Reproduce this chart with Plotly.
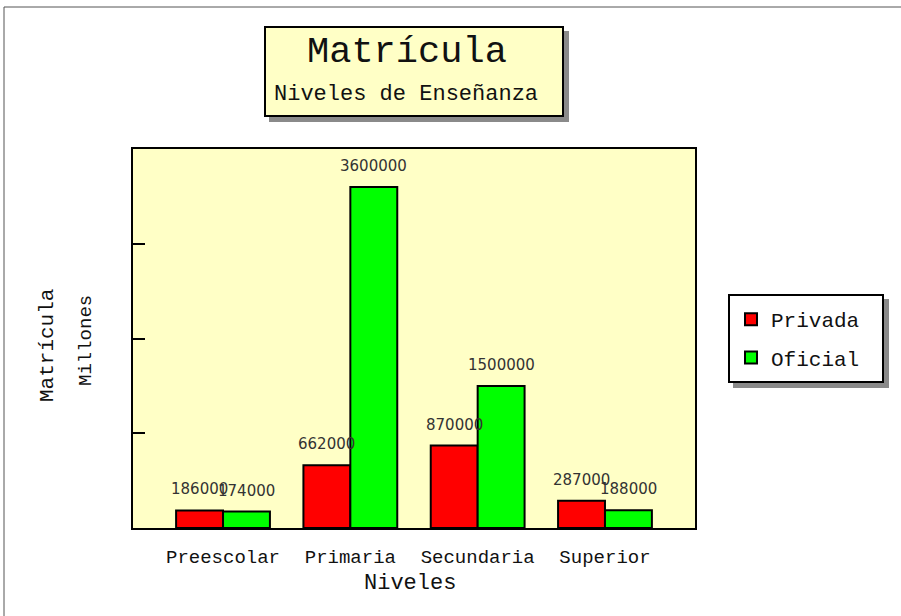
import plotly.graph_objects as go

categories = ["Preescolar", "Primaria", "Secundaria", "Superior"]
privada = [186000, 662000, 870000, 287000]
oficial = [174000, 3600000, 1500000, 188000]
series_names = ["Privada", "Oficial"]
title_text = "Matrícula"
subtitle_text = "Niveles de Enseñanza"
x_title = "Niveles"
y_title_1 = "Matrícula"
y_title_2 = "Millones"

W, H = 901, 616
L, R, T, B = 133, 695, 149, 528

def px(x):
    return (x - L) / (R - L)

def py(y):
    return (B - y) / (B - T)

MONO = "Liberation Mono, Courier New, monospace"
SANS = "DejaVu Sans, sans-serif"
BG = "#FFFFC6"

fig = go.Figure()
fig.add_trace(go.Bar(name=series_names[0], x=categories, y=privada,
                     marker=dict(color="#FF0000", line=dict(color="black", width=2)),
                     legendgroup="a"))
fig.add_trace(go.Bar(name=series_names[1], x=categories, y=oficial,
                     marker=dict(color="#00FF00", line=dict(color="black", width=2)),
                     legendgroup="b"))

annotations = []
for vals, shift in ((privada, -23.5), (oficial, 23.5)):
    for c, v in zip(categories, vals):
        annotations.append(dict(x=c, y=v, xref="x", yref="y", text=str(v),
                                showarrow=False, xshift=shift, yshift=21,
                                yanchor="middle",
                                font=dict(family=SANS, size=15, color="#333333")))

annotations += [
    dict(x=px(407), y=py(52), xref="paper", yref="paper", text=title_text,
         showarrow=False, xanchor="center", yanchor="middle",
         font=dict(family=MONO, size=37, color="#111111")),
    dict(x=px(272), y=py(94), xref="paper", yref="paper", text=subtitle_text,
         showarrow=False, xanchor="left", yanchor="middle",
         font=dict(family=MONO, size=22, color="#111111")),
    dict(x=px(410), y=py(583), xref="paper", yref="paper", text=x_title,
         showarrow=False, xanchor="center", yanchor="middle",
         font=dict(family=MONO, size=22, color="#111111")),
    dict(x=px(47), y=py(346), xref="paper", yref="paper", text=y_title_1,
         showarrow=False, xanchor="center", yanchor="middle", textangle=-90,
         font=dict(family=MONO, size=21, color="#111111")),
    dict(x=px(86), y=py(341), xref="paper", yref="paper", text=y_title_2,
         showarrow=False, xanchor="center", yanchor="middle", textangle=-90,
         font=dict(family=MONO, size=19, color="#111111")),
]

shapes = [
    # outer frame
    dict(type="rect", xref="paper", yref="paper", x0=px(4), y0=py(640), x1=px(940), y1=py(7),
         line=dict(color="#555555", width=1), fillcolor="rgba(0,0,0,0)", layer="below"),
    # title box shadow + box
    dict(type="rect", xref="paper", yref="paper", x0=px(269), y0=py(122), x1=px(569), y1=py(31),
         line=dict(width=0), fillcolor="#8A8A8A"),
    dict(type="rect", xref="paper", yref="paper", x0=px(265), y0=py(116), x1=px(563), y1=py(27),
         line=dict(color="black", width=2), fillcolor=BG),
    # legend box shadow + box
    dict(type="rect", xref="paper", yref="paper", x0=px(733), y0=py(388), x1=px(889), y1=py(299),
         line=dict(width=0), fillcolor="#8A8A8A", layer="below"),
    dict(type="rect", xref="paper", yref="paper", x0=px(729), y0=py(382), x1=px(883), y1=py(295),
         line=dict(color="black", width=2), fillcolor="white", layer="below"),
]

fig.update_layout(
    width=W, height=H,
    margin=dict(l=L, r=W - R, t=T, b=H - B, autoexpand=False),
    paper_bgcolor="white", plot_bgcolor=BG,
    barmode="group", bargap=0.263, bargroupgap=0,
    showlegend=True,
    legend=dict(x=px(731), y=py(299), xanchor="left", yanchor="top",
                bgcolor="rgba(0,0,0,0)", borderwidth=0,
                traceorder="grouped", tracegroupgap=8,
                font=dict(family=MONO, size=21, color="#111111")),
    annotations=annotations,
    shapes=shapes,
    xaxis=dict(type="category", range=[-0.707, 3.707], showline=True, mirror=True,
               linecolor="black", linewidth=2, ticks="", showgrid=False,
               tickfont=dict(family=MONO, size=19, color="#111111"),
               ticklabelstandoff=10, fixedrange=True),
    yaxis=dict(range=[0, 4000000], showline=True, mirror=True, linecolor="black",
               linewidth=2, ticks="inside", ticklen=12, tickwidth=2, tickcolor="black",
               tickvals=[1000000, 2000000, 3000000], showticklabels=False,
               showgrid=False, zeroline=False, fixedrange=True),
)

fig.write_html("out.html", config={"displayModeBar": False},
               post_script="document.body.style.margin='0';document.body.style.overflow='hidden';")
